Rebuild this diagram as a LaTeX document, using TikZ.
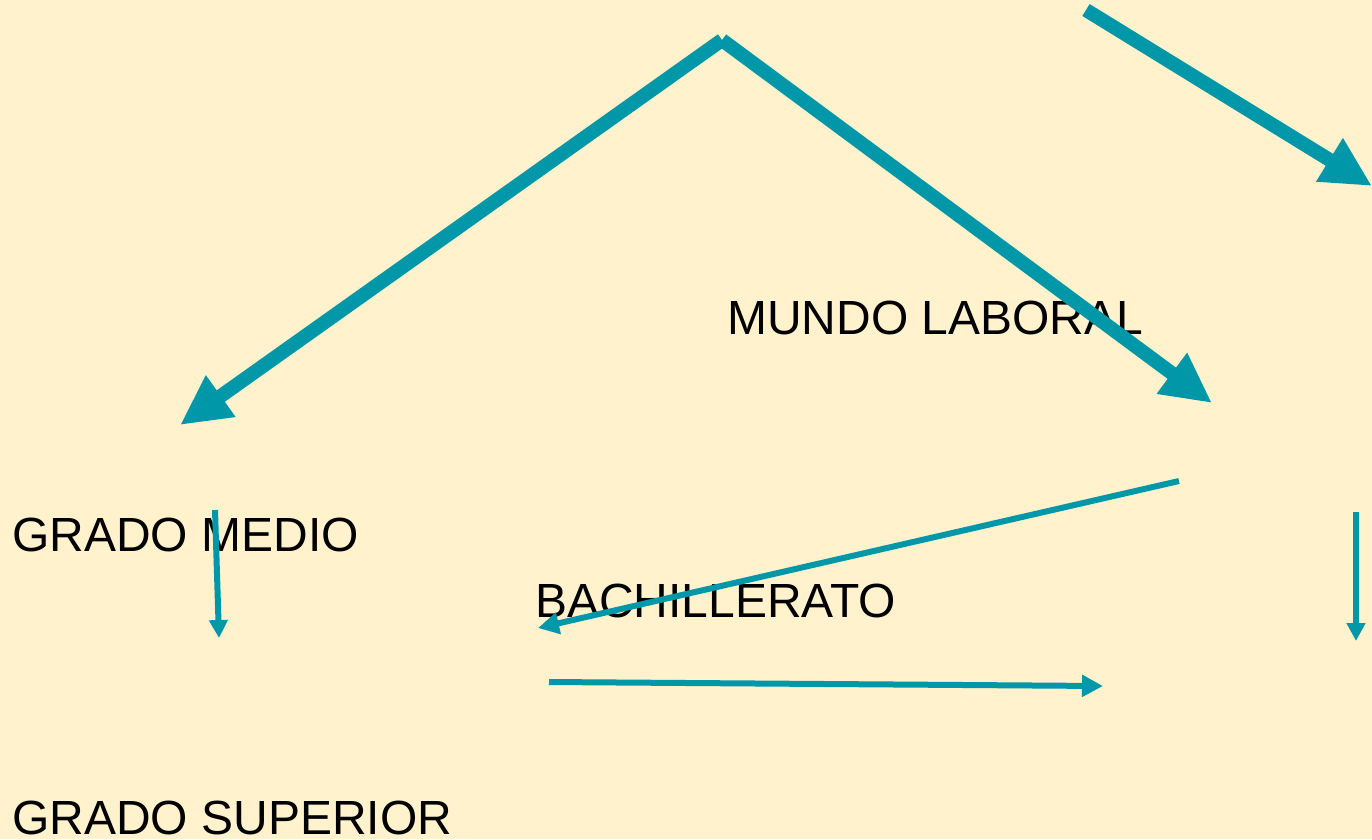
\documentclass[tikz,border=0pt]{standalone}
\usepackage{fontspec}
\setmainfont{Liberation Sans}
\usetikzlibrary{arrows.meta}
\definecolor{paper}{RGB}{255,242,204}
\definecolor{route}{RGB}{0,152,168}
\tikzset{bigroute/.style={route,line width=0.28cm,-{Triangle[length=1cm,width=0.95cm]}},
 smallroute/.style={route,line width=0.12cm,-{Triangle[length=0.36cm,width=0.36cm]}},
 stage/.style={anchor=base west,inner sep=0pt,font=\fontsize{27.3}{32}\selectfont}}

\begin{document}
\begin{tikzpicture}[x=0.02cm,y=-0.02cm]
\fill[paper] (0,0) rectangle (1372,839);
\useasboundingbox (0,0) rectangle (1372,839);
\coordinate (top) at (722,40);
\coordinate (leftend) at (180,425);
\coordinate (rightend) at (1212,403);
\coordinate (corner) at (1086,10);
\coordinate (cornerend) at (1372,186);
\coordinate (medioa) at (215,510);
\coordinate (mediob) at (219,638);
\coordinate (backa) at (1179,481);
\coordinate (backb) at (538,628);
\coordinate (bacha) at (549,682);
\coordinate (bachb) at (1103,686);
\coordinate (downa) at (1356,512);
\coordinate (downb) at (1356,641);
\node[stage] (mundo) at (727,334) {MUNDO LABORAL};
\node[stage] (medio) at (12,551) {GRADO MEDIO};
\node[stage] (bach) at (535,617) {BACHILLERATO};
\node[stage] (superior) at (12,834) {GRADO SUPERIOR};
\draw[bigroute] (top)--(leftend);
\draw[bigroute] (top)--(rightend);
\draw[bigroute] (corner)--(cornerend);
\draw[smallroute] (medioa)--(mediob);
\draw[smallroute,-{Triangle[length=0.42cm,width=0.42cm]}] (backa)--(backb);
\draw[smallroute,-{Triangle[length=0.42cm,width=0.42cm]}] (bacha)--(bachb);
\draw[smallroute] (downa)--(downb);
\end{tikzpicture}
\end{document}
